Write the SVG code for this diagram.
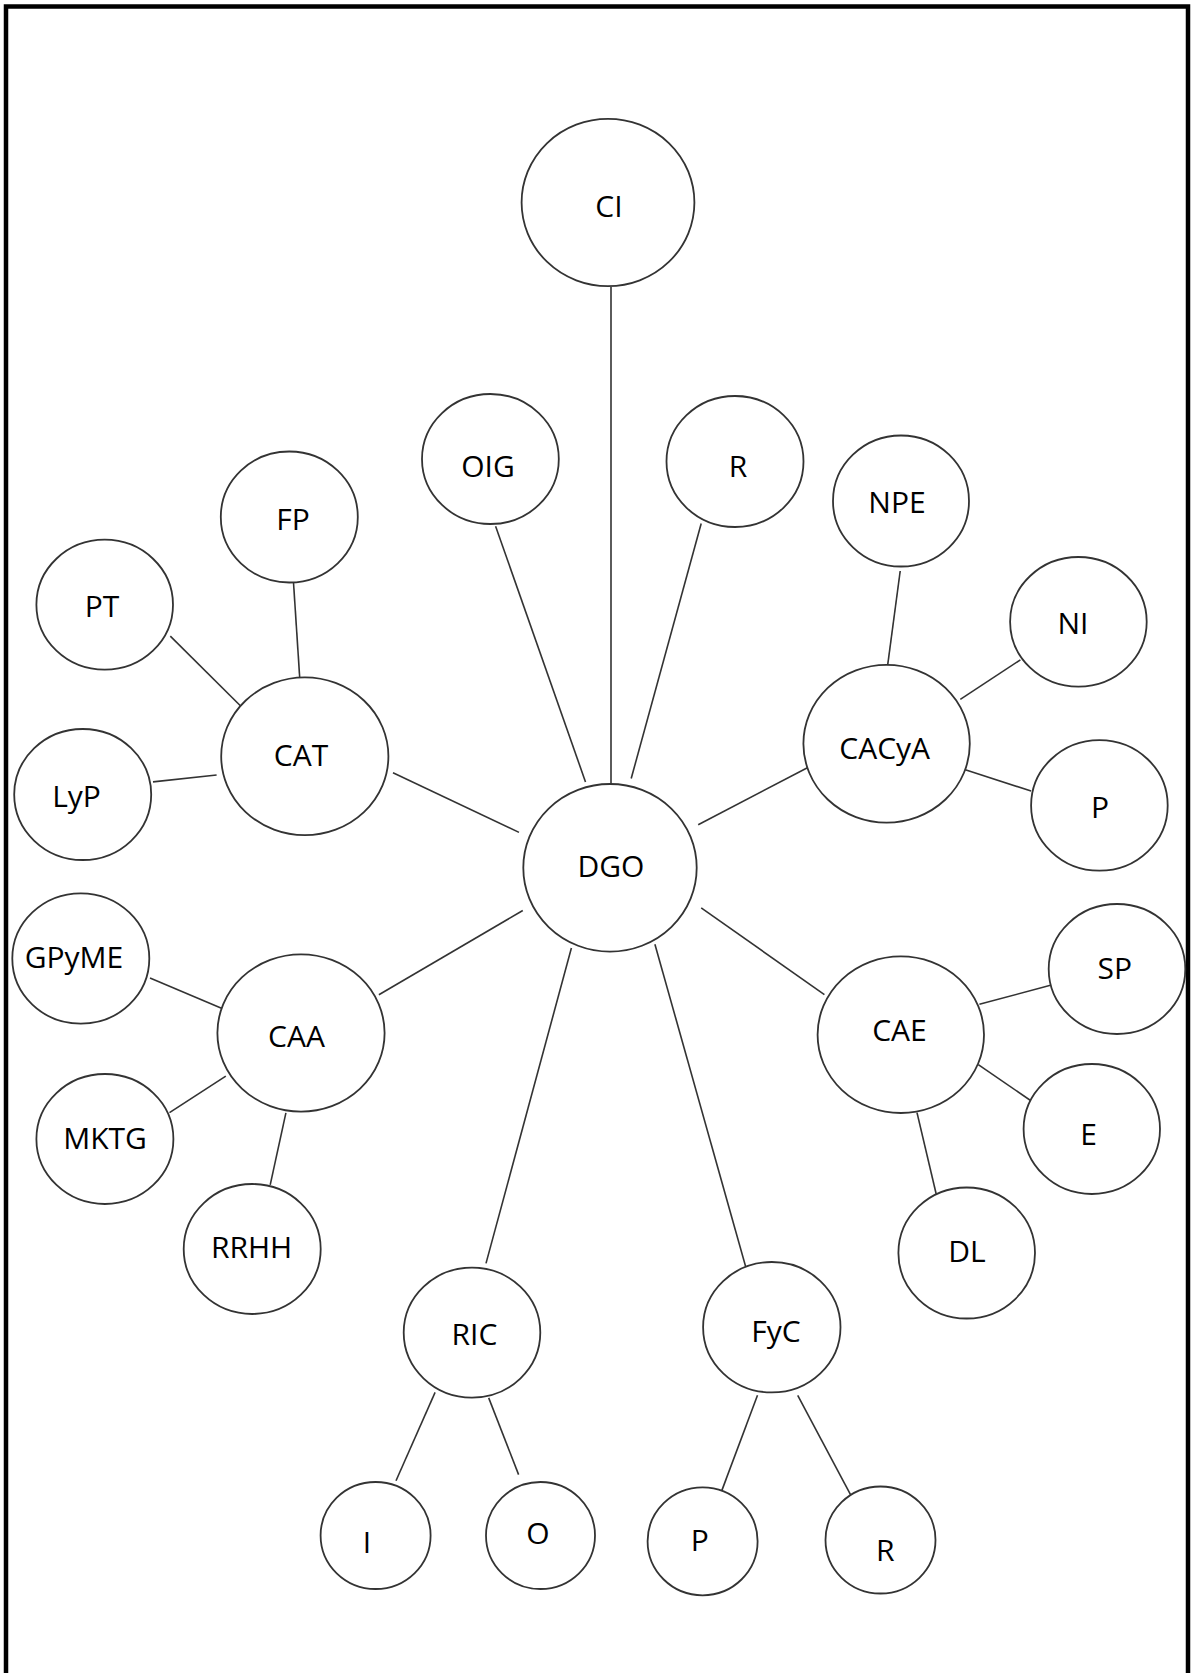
<svg xmlns="http://www.w3.org/2000/svg" width="1191" height="1673" viewBox="0 0 1191 1673">
<style>
.n ellipse{fill:#fff;stroke:#333;stroke-width:1.8}
.n text{font-family:"Open Sans","Liberation Sans",sans-serif;font-size:30px;fill:#000;text-anchor:middle}
#edges line{stroke:#333;stroke-width:1.6}
</style>
<rect width="1191" height="1673" fill="#fff"/>
<rect x="6" y="6.5" width="1182" height="1700" fill="none" stroke="#000" stroke-width="4.5"/>
<g id="edges">
<line x1="611" y1="287" x2="611" y2="784"/>
<line x1="495.6" y1="526.2" x2="585.5" y2="781.9"/>
<line x1="701.2" y1="523.5" x2="631.2" y2="778.5"/>
<line x1="293.5" y1="582.5" x2="299.7" y2="677.4"/>
<line x1="170.3" y1="636.1" x2="243.4" y2="708.8"/>
<line x1="153" y1="781.9" x2="216.6" y2="775"/>
<line x1="393" y1="772.7" x2="519" y2="832.4"/>
<line x1="900.2" y1="571" x2="887.6" y2="665.6"/>
<line x1="1020.4" y1="659.8" x2="960.3" y2="699.3"/>
<line x1="965.3" y1="769.7" x2="1031.1" y2="791.1"/>
<line x1="698.2" y1="824.8" x2="810.3" y2="766.2"/>
<line x1="150" y1="977.9" x2="228" y2="1011"/>
<line x1="378.9" y1="994.7" x2="522.8" y2="910.5"/>
<line x1="169.5" y1="1112.6" x2="225.8" y2="1076.2"/>
<line x1="285.9" y1="1112.8" x2="270.2" y2="1184.8"/>
<line x1="571.4" y1="948" x2="486" y2="1263.4"/>
<line x1="435.1" y1="1392.4" x2="396" y2="1480.8"/>
<line x1="488.7" y1="1397.9" x2="518.6" y2="1474.6"/>
<line x1="701.2" y1="907.8" x2="824.4" y2="994.7"/>
<line x1="979.4" y1="1004.3" x2="1057" y2="983.6"/>
<line x1="978.3" y1="1064.7" x2="1034.2" y2="1103"/>
<line x1="917" y1="1112.6" x2="936.6" y2="1195.8"/>
<line x1="654.9" y1="944.2" x2="747.1" y2="1271.8"/>
<line x1="757.5" y1="1395.3" x2="721.9" y2="1490.4"/>
<line x1="797.7" y1="1395.3" x2="850.5" y2="1494.7"/>
</g>
<g id="n-CI" class="n"><ellipse cx="608" cy="202.5" rx="86.4" ry="83.7"/><text x="609" y="216.5">CI</text></g>
<g id="n-OIG" class="n"><ellipse cx="490.4" cy="459" rx="68.4" ry="65"/><text x="488" y="476.5">OIG</text></g>
<g id="n-R1" class="n"><ellipse cx="735" cy="461.5" rx="68.5" ry="65.5"/><text x="738" y="476.5">R</text></g>
<g id="n-FP" class="n"><ellipse cx="289.3" cy="517" rx="68.5" ry="65.5"/><text x="293" y="530">FP</text></g>
<g id="n-NPE" class="n"><ellipse cx="901" cy="501" rx="68" ry="65.5"/><text x="897" y="513">NPE</text></g>
<g id="n-PT" class="n"><ellipse cx="104.7" cy="604.7" rx="68.3" ry="65"/><text x="102" y="617">PT</text></g>
<g id="n-NI" class="n"><ellipse cx="1078.4" cy="621.8" rx="68.3" ry="64.8"/><text x="1073" y="634">NI</text></g>
<g id="n-CAT" class="n"><ellipse cx="304.8" cy="756.3" rx="83.6" ry="78.9"/><text x="301" y="766">CAT</text></g>
<g id="n-CACyA" class="n"><ellipse cx="886.6" cy="743.7" rx="83.2" ry="78.9"/><text x="884.7" y="758.6">CACyA</text></g>
<g id="n-LyP" class="n"><ellipse cx="82.7" cy="794.5" rx="68.5" ry="65.5"/><text x="76.5" y="806.5">LyP</text></g>
<g id="n-P1" class="n"><ellipse cx="1099.4" cy="805.4" rx="68.3" ry="65.3"/><text x="1100" y="818">P</text></g>
<g id="n-DGO" class="n"><ellipse cx="610" cy="867.8" rx="86.7" ry="83.8"/><text x="611" y="877">DGO</text></g>
<g id="n-GPyME" class="n"><ellipse cx="80.8" cy="958.5" rx="68.5" ry="65.2"/><text x="74" y="968">GPyME</text></g>
<g id="n-SP" class="n"><ellipse cx="1117" cy="969" rx="68.3" ry="65"/><text x="1114.7" y="979.3">SP</text></g>
<g id="n-CAA" class="n"><ellipse cx="301" cy="1033" rx="83.6" ry="78.6"/><text x="296.5" y="1046.7">CAA</text></g>
<g id="n-CAE" class="n"><ellipse cx="900.8" cy="1034.7" rx="83.2" ry="78.3"/><text x="899.5" y="1041">CAE</text></g>
<g id="n-MKTG" class="n"><ellipse cx="104.9" cy="1139" rx="68.5" ry="65"/><text x="105" y="1149.3">MKTG</text></g>
<g id="n-E" class="n"><ellipse cx="1091.8" cy="1129" rx="68.2" ry="65"/><text x="1088.5" y="1144.6">E</text></g>
<g id="n-RRHH" class="n"><ellipse cx="252.2" cy="1249" rx="68.5" ry="65"/><text x="251.6" y="1258">RRHH</text></g>
<g id="n-DL" class="n"><ellipse cx="966.7" cy="1253" rx="68.3" ry="65.5"/><text x="967" y="1262">DL</text></g>
<g id="n-RIC" class="n"><ellipse cx="472" cy="1332.6" rx="68.3" ry="65"/><text x="474.5" y="1345">RIC</text></g>
<g id="n-FyC" class="n"><ellipse cx="771.8" cy="1327.2" rx="68.7" ry="65.2"/><text x="776" y="1342">FyC</text></g>
<g id="n-I" class="n"><ellipse cx="375.6" cy="1535.5" rx="55" ry="53.5"/><text x="367" y="1553">I</text></g>
<g id="n-O" class="n"><ellipse cx="540.5" cy="1535.5" rx="54.5" ry="53.5"/><text x="538" y="1544">O</text></g>
<g id="n-P2" class="n"><ellipse cx="702.6" cy="1541.3" rx="55" ry="54"/><text x="699.7" y="1551.4">P</text></g>
<g id="n-R2" class="n"><ellipse cx="880.5" cy="1540" rx="55" ry="53.5"/><text x="885.3" y="1561">R</text></g>
</svg>
